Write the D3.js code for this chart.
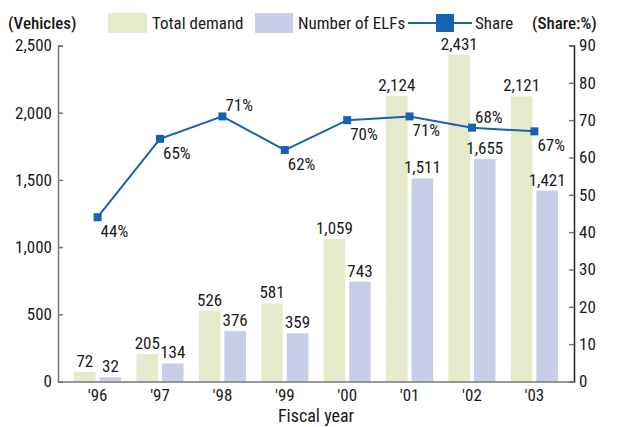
<!DOCTYPE html>
<html>
<head>
<meta charset="utf-8">
<script src="https://cdn.jsdelivr.net/npm/d3@7"></script>
<style>
  body { margin: 0; background: #fff; }
  text { font-family: "Liberation Sans Narrow", "Roboto Condensed", "Arial Narrow", sans-serif; fill: #1a1a1a; }
</style>
</head>
<body>
<div id="chart"></div>
<script>
var years = ["'96", "'97", "'98", "'99", "'00", "'01", "'02", "'03"];
var totalDemand = [72, 205, 526, 581, 1059, 2124, 2431, 2121];
var elfCount = [32, 134, 376, 359, 743, 1511, 1655, 1421];
var share = [44, 65, 71, 62, 70, 71, 68, 67];
var shareAbove = [false, false, true, false, false, false, true, false];
var leftTicks = [0, 500, 1000, 1500, 2000, 2500];
var rightTicks = [0, 10, 20, 30, 40, 50, 60, 70, 80, 90];

var width = 619, height = 427;
var margin = { top: 45.5, right: 45, bottom: 45.5, left: 58 };

var green = "#e5eacb", blue = "#c9cee8", lineColor = "#1762b1";

var svg = d3.select("#chart")
  .append("svg")
  .attr("width", width)
  .attr("height", height);

var x = d3.scaleBand()
  .domain(years)
  .range([margin.left, width - margin.right])
  .paddingInner(0)
  .paddingOuter(0.135);

var x1 = d3.scaleBand()
  .domain(["total", "elf"])
  .range([0, x.bandwidth()])
  .paddingInner(0.157)
  .paddingOuter(0.3);

var y = d3.scaleLinear()
  .domain([0, 2500])
  .range([height - margin.bottom, margin.top]);

var y2 = d3.scaleLinear()
  .domain([0, 90])
  .range([height - margin.bottom, margin.top]);

var fmt = d3.format(",");

// bars
var groups = svg.append("g")
  .selectAll("g")
  .data(years)
  .join("g")
  .attr("transform", d => "translate(" + x(d) + ",0)");

groups.append("rect")
  .attr("x", x1("total"))
  .attr("width", x1.bandwidth())
  .attr("y", (d, i) => y(totalDemand[i]))
  .attr("height", (d, i) => y(0) - y(totalDemand[i]))
  .attr("fill", green);

groups.append("rect")
  .attr("x", x1("elf"))
  .attr("width", x1.bandwidth())
  .attr("y", (d, i) => y(elfCount[i]))
  .attr("height", (d, i) => y(0) - y(elfCount[i]))
  .attr("fill", blue);

groups.append("text")
  .attr("x", x1("total") + x1.bandwidth() / 2)
  .attr("y", (d, i) => y(totalDemand[i]) - 5)
  .attr("text-anchor", "middle")
  .attr("font-size", 17)
  .text((d, i) => fmt(totalDemand[i]));

groups.append("text")
  .attr("x", x1("elf") + x1.bandwidth() / 2)
  .attr("y", (d, i) => y(elfCount[i]) - 5)
  .attr("text-anchor", "middle")
  .attr("font-size", 17)
  .text((d, i) => fmt(elfCount[i]));

// axes
var yAxis = svg.append("g")
  .attr("transform", "translate(" + margin.left + ",0)")
  .call(d3.axisRight(y).tickValues(leftTicks).tickSize(5).tickFormat(fmt));
yAxis.select(".domain").attr("stroke", "#777").attr("stroke-width", 1.5);
yAxis.selectAll(".tick line").attr("stroke", "#777").attr("stroke-width", 1.5);
yAxis.selectAll(".tick text")
  .attr("x", -6).attr("text-anchor", "end")
  .attr("font-size", 17).attr("fill", "#111");

var y2Axis = svg.append("g")
  .attr("transform", "translate(" + (width - margin.right) + ",0)")
  .call(d3.axisLeft(y2).tickValues(rightTicks).tickSize(5));
y2Axis.select(".domain").attr("stroke", "#222").attr("stroke-width", 1.5);
y2Axis.selectAll(".tick line").attr("stroke", "#777").attr("stroke-width", 1.5);
y2Axis.selectAll(".tick text")
  .attr("x", 5).attr("text-anchor", "start")
  .attr("font-size", 17).attr("fill", "#111");

var xAxis = svg.append("g")
  .attr("transform", "translate(0," + (height - margin.bottom) + ")")
  .call(d3.axisBottom(x).tickSize(0).tickPadding(0));
xAxis.select(".domain").attr("stroke", "#777").attr("stroke-width", 1.5);
xAxis.selectAll(".tick text")
  .attr("dy", null).attr("y", 19)
  .attr("font-size", 17).attr("fill", "#111");

svg.append("text")
  .attr("x", (margin.left + width - margin.right) / 2)
  .attr("y", 422)
  .attr("text-anchor", "middle")
  .attr("font-size", 18)
  .text("Fiscal year");

// share line
var line = d3.line()
  .x((d, i) => x(years[i]) + x.bandwidth() / 2)
  .y(d => y2(d));

svg.append("path")
  .datum(share)
  .attr("fill", "none")
  .attr("stroke", lineColor)
  .attr("stroke-width", 2)
  .attr("d", line);

svg.append("g")
  .selectAll("rect")
  .data(share)
  .join("rect")
  .attr("x", (d, i) => x(years[i]) + x.bandwidth() / 2 - 4)
  .attr("y", d => y2(d) - 4)
  .attr("width", 8)
  .attr("height", 8)
  .attr("fill", lineColor);

svg.append("g")
  .selectAll("text")
  .data(share)
  .join("text")
  .attr("x", (d, i) => x(years[i]) + x.bandwidth() / 2 + 3)
  .attr("y", (d, i) => y2(d) + (shareAbove[i] ? -5 : 20))
  .attr("font-size", 17)
  .text(d => d + "%");

// legend
var legend = svg.append("g");
legend.append("text").attr("x", 8).attr("y", 29).attr("font-size", 17).attr("font-weight", "500").text("(Vehicles)");
legend.append("rect").attr("x", 108).attr("y", 13).attr("width", 39).attr("height", 20).attr("fill", green);
legend.append("text").attr("x", 152).attr("y", 29).attr("font-size", 17).text("Total demand");
legend.append("rect").attr("x", 255).attr("y", 13).attr("width", 38).attr("height", 20).attr("fill", blue);
legend.append("text").attr("x", 298).attr("y", 29).attr("font-size", 17).text("Number of ELFs");
legend.append("line").attr("x1", 408).attr("x2", 472).attr("y1", 23).attr("y2", 23)
  .attr("stroke", lineColor).attr("stroke-width", 2);
legend.append("rect").attr("x", 436).attr("y", 14).attr("width", 18).attr("height", 18).attr("fill", lineColor);
legend.append("text").attr("x", 475).attr("y", 29).attr("font-size", 17).text("Share");
legend.append("text").attr("x", 532).attr("y", 29).attr("font-size", 17).attr("font-weight", "500").text("(Share:%)");
</script>
</body>
</html>
